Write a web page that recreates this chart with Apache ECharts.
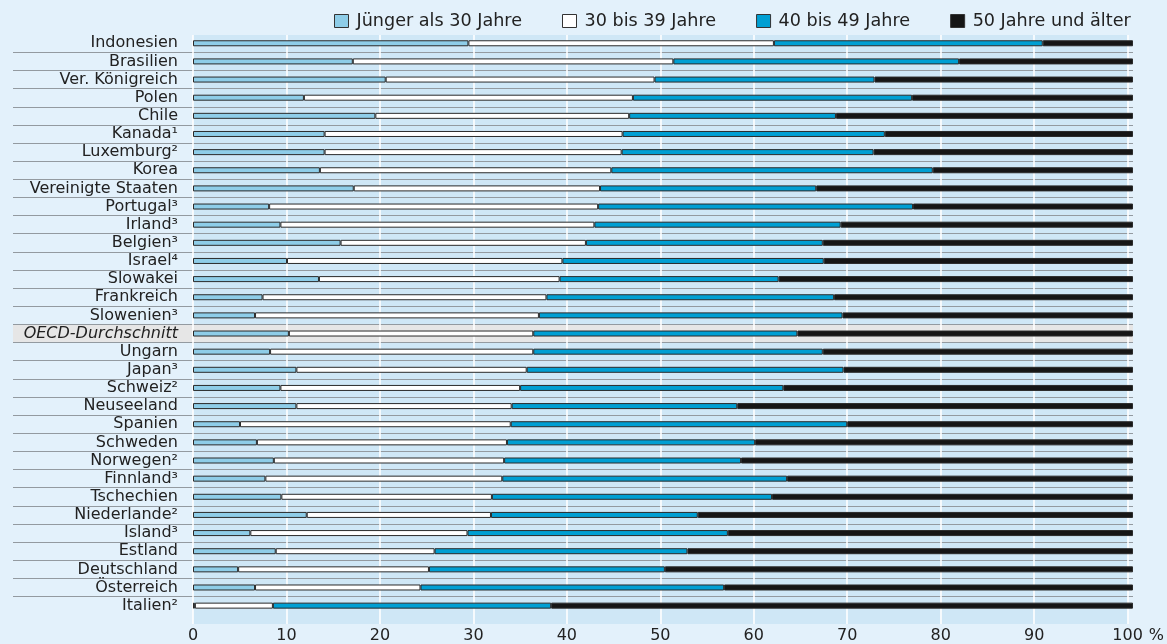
<!DOCTYPE html>
<html>
<head>
<meta charset="utf-8">
<script src="https://cdn.jsdelivr.net/npm/echarts@6/dist/echarts.min.js"></script>
<style>
html,body{margin:0;padding:0;background:#e3f1fb;}
#c{width:1167px;height:644px;}
</style>
</head>
<body>
<div id="c"></div>
<script>
const categories = ['Indonesien','Brasilien','Ver. Königreich','Polen','Chile','Kanada¹','Luxemburg²','Korea','Vereinigte Staaten','Portugal³','Irland³','Belgien³','Israel⁴','Slowakei','Frankreich','Slowenien³','OECD-Durchschnitt','Ungarn','Japan³','Schweiz²','Neuseeland','Spanien','Schweden','Norwegen²','Finnland³','Tschechien','Niederlande²','Island³','Estland','Deutschland','Österreich','Italien²'];
const seriesNames = ['Jünger als 30 Jahre','30 bis 39 Jahre','40 bis 49 Jahre','50 Jahre und älter'];
const under30 = [29.3,17.0,20.5,11.8,19.4,14.0,14.0,13.5,17.1,8.1,9.3,15.7,10.0,13.4,7.4,6.6,10.2,8.2,11.0,9.3,11.0,5.0,6.8,8.6,7.7,9.4,12.1,6.1,8.8,4.8,6.6,0.2];
const age30to39 = [32.5,34.1,28.6,35.0,27.0,31.7,31.6,31.0,26.2,35.0,33.4,26.1,29.3,25.6,30.2,30.2,26.0,28.0,24.5,25.5,22.9,28.8,26.6,24.5,25.2,22.4,19.6,23.1,16.9,20.3,17.6,8.3];
const age40to49 = [28.6,30.4,23.4,29.7,22.0,27.9,26.8,34.2,23.0,33.5,26.2,25.2,27.8,23.3,30.6,32.3,28.1,30.8,33.7,28.0,24.0,35.8,26.4,25.2,30.3,29.8,22.0,27.7,26.9,25.1,32.3,29.6];
const age50plus = [9.6,18.5,27.5,23.5,31.6,26.4,27.6,21.3,33.7,23.4,31.1,33.0,32.9,37.7,31.8,30.9,35.7,33.0,30.8,37.2,42.1,30.4,40.2,41.7,36.8,38.4,46.3,43.1,47.4,49.8,43.5,61.9];
const xTicks = [0,10,20,30,40,50,60,70,80,90,100];
const xUnit = '%';
const highlight = 'OECD-Durchschnitt';

const FONT = 'DejaVu Sans';
const colors = ['#8ecde8','#ffffff','#009fd3','#161616'];
const values = [under30, age30to39, age40to49, age50plus];

const chart = echarts.init(document.getElementById('c'));
const gridTop = 34.2, gridH = 580.5;
chart.setOption({
  backgroundColor: '#e3f1fb',
  animation: false,
  textStyle: {fontFamily: FONT},
  legend: {
    left: 329, top: 7,
    itemWidth: 14, itemHeight: 13, itemGap: 40,
    icon: 'rect',
    data: seriesNames,
    textStyle: {fontFamily: FONT, fontSize: 17.6, color: '#222', padding: [0,0,0,3]},
    itemStyle: {borderColor: '#333', borderWidth: 1}
  },
  grid: [
    {left: 193, right: 34, top: 35, bottom: 18, show: true, backgroundColor: '#cfe7f6', borderWidth: 0, z: -2},
    {left: 13, right: 34, top: gridTop, height: gridH},
    {left: 193, right: 34, top: gridTop, height: gridH}
  ],
  xAxis: [
    {gridIndex: 0, type: 'value', min: 0, max: 100, interval: 10, z: 1,
     name: xUnit, nameLocation: 'end', nameGap: 16,
     nameTextStyle: {fontFamily: FONT, fontSize: 16, color: '#222', verticalAlign: 'top', padding: [4,0,0,0]},
     axisLine: {show: false}, axisTick: {show: false},
     splitLine: {show: true, lineStyle: {color: '#ffffff', width: 1.6}},
     axisLabel: {show: true, margin: 4, fontFamily: FONT, fontSize: 16, color: '#222',
       hideOverlap: false, showMaxLabel: true, showMinLabel: true},
     customValues: xTicks},
    {gridIndex: 1, type: 'value', min: 0, max: 100, show: false},
    {gridIndex: 2, type: 'value', min: 0, max: 100, show: false}
  ],
  yAxis: [
    {gridIndex: 0, type: 'value', min: 0, max: 1, show: false},
    {gridIndex: 1, type: 'category', inverse: true, data: categories, z: -1,
     axisLine: {show: false}, axisTick: {show: false}, axisLabel: {show: false},
     splitLine: {show: true, interval: 0, showMinLine: false, showMaxLine: false, lineStyle: {color: '#939aa0', width: 1}},
     splitArea: {show: true, interval: 0, areaStyle: {color: categories.map(c => c === highlight ? '#e6e6e6' : 'rgba(0,0,0,0)')}}},
    {gridIndex: 2, type: 'category', inverse: true, data: categories, z: 2,
     axisLine: {show: false}, axisTick: {show: false}, splitLine: {show: false},
     axisLabel: {interval: 0, margin: 15, fontFamily: FONT, fontSize: 16, color: '#222',
       formatter: v => v === highlight ? '{i|' + v + '}' : v,
       rich: {i: {fontStyle: 'italic', fontFamily: FONT, fontSize: 16, color: '#222'}}}}
  ],
  series: seriesNames.map((n, i) => ({
    name: n, type: 'bar', stack: 'total', xAxisIndex: 2, yAxisIndex: 2, z: 3,
    barWidth: 6,
    itemStyle: {color: colors[i], borderColor: '#2a2a2a', borderWidth: 1},
    data: values[i]
  }))
});
</script>
</body>
</html>
